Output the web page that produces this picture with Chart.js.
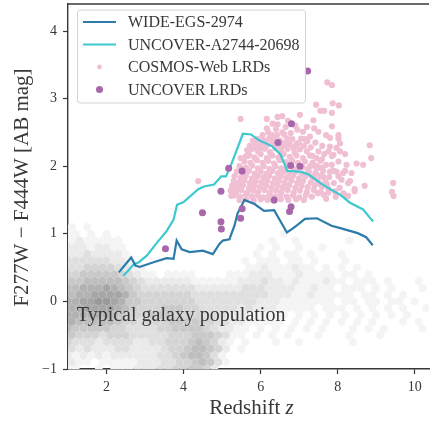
<!DOCTYPE html>
<html>
<head>
<meta charset="utf-8">
<script src="https://cdn.jsdelivr.net/npm/chart.js@4.4.1/dist/chart.umd.min.js"></script>
<style>
  html, body { margin: 0; padding: 0; background: #fff; }
  canvas { display: block; }
</style>
</head>
<body>
<canvas id="colorChart" width="433" height="425"></canvas>
<script>
const SERIF = '"Liberation Serif", "DejaVu Serif", serif';
const INK = '#383838';

const xTicks = [2, 4, 6, 8, 10];
const yTicks = [-1, 0, 1, 2, 3, 4];

// WIDE-EGS-2974 colour track
const egsZ = [2.32, 2.45, 2.64, 2.75, 2.86, 3.22, 3.56, 3.74, 3.82, 3.95, 4.16, 4.50, 4.76, 4.93, 5.02, 5.19, 5.32, 5.40, 5.58, 5.84, 6.09, 6.35, 6.50, 6.68, 6.81, 6.95, 7.15, 7.46, 7.84, 8.09, 8.52, 8.74, 8.91];
const egsColor = [0.43, 0.52, 0.65, 0.53, 0.51, 0.58, 0.64, 0.63, 0.90, 0.77, 0.73, 0.75, 0.70, 0.85, 0.90, 0.92, 1.12, 1.30, 1.50, 1.44, 1.34, 1.35, 1.20, 1.02, 1.07, 1.13, 1.22, 1.23, 1.12, 1.08, 1.01, 0.95, 0.83];

// UNCOVER-A2744-20698 colour track
const a2744Z = [2.44, 2.71, 2.84, 3.05, 3.31, 3.56, 3.74, 3.83, 4.00, 4.38, 4.53, 4.79, 4.98, 5.10, 5.24, 5.54, 5.75, 5.97, 6.09, 6.31, 6.52, 6.69, 7.03, 7.24, 7.55, 7.81, 8.06, 8.32, 8.66, 8.92];
const a2744Color = [0.38, 0.55, 0.58, 0.68, 0.87, 1.04, 1.21, 1.43, 1.47, 1.66, 1.70, 1.73, 1.85, 1.85, 2.03, 2.48, 2.47, 2.38, 2.35, 2.29, 2.17, 1.93, 1.92, 1.88, 1.75, 1.66, 1.58, 1.46, 1.36, 1.18];

// UNCOVER LRDs [z, colour]
const uncoverLRDs = [
  [3.53, 0.78], [4.49, 1.31], [4.97, 1.63], [4.97, 1.18], [4.98, 1.07], [5.17, 1.97],
  [5.52, 1.93], [5.52, 1.37], [5.48, 1.23], [6.35, 1.50], [6.45, 2.35], [6.80, 2.63],
  [6.78, 2.01], [7.02, 2.00], [6.79, 1.40], [6.75, 1.33], [7.22, 3.41]
];

// COSMOS-Web LRDs [z, colour]
const cosmosLRDs = [
  [7.73, 3.24], [7.85, 3.20], [7.44, 2.91], [7.87, 2.93], [8.03, 2.90], [7.55, 2.82], [7.65, 2.82], [7.85, 2.79],
  [7.02, 2.76], [6.44, 2.73], [6.56, 2.74], [6.16, 2.70], [5.48, 2.70], [7.37, 2.68], [6.71, 2.67], [6.31, 2.63],
  [6.44, 2.62], [7.39, 2.56], [7.50, 2.51], [7.85, 2.59], [6.95, 2.54], [7.10, 2.51], [6.78, 2.49], [6.56, 2.50],
  [6.16, 2.56], [7.70, 2.46], [8.02, 2.46], [7.80, 2.42], [8.06, 2.34], [8.02, 2.41], [6.31, 2.46], [6.42, 2.46],
  [6.99, 2.34], [6.82, 2.40], [7.05, 2.41], [7.15, 2.40], [7.28, 2.44], [7.21, 2.37], [6.61, 2.47], [6.69, 2.41],
  [6.26, 2.42], [6.35, 2.39], [6.03, 2.37], [6.14, 2.35], [5.88, 2.27], [6.00, 2.27], [5.62, 2.15], [5.48, 2.12],
  [5.67, 2.15], [5.50, 1.97], [8.83, 2.31], [8.87, 2.12], [8.49, 2.04], [8.66, 2.02], [8.70, 1.71], [8.44, 1.66],
  [9.44, 1.75], [9.41, 1.62], [9.45, 1.56], [4.38, 1.78], [7.80, 2.29], [7.97, 2.27], [8.06, 2.22], [8.19, 2.18],
  [7.76, 2.22], [7.89, 2.17], [7.85, 2.15], [8.02, 2.07], [7.46, 2.00], [7.49, 1.98], [7.89, 1.93], [7.97, 1.92],
  [8.14, 1.90], [8.02, 1.85], [8.23, 2.02], [8.19, 1.93], [8.36, 1.90], [8.10, 1.80], [8.32, 1.78], [8.27, 1.75],
  [8.44, 1.63], [8.27, 1.56], [8.23, 1.56], [7.76, 1.66], [7.93, 1.63], [7.55, 1.73], [7.63, 1.84], [7.33, 1.85],
  [7.72, 1.73], [7.63, 1.58], [7.76, 1.61], [7.50, 2.22], [7.59, 2.10], [7.46, 1.97], [7.29, 2.00], [6.95, 2.34],
  [6.86, 2.27], [5.24, 1.56], [5.28, 1.64], [5.37, 1.71],
  [6.05, 2.46], [6.20, 2.50], [6.50, 2.38], [6.58, 2.30], [6.75, 2.33], [6.90, 2.30], [7.12, 2.30], [7.30, 2.28],
  [7.42, 2.35], [7.60, 2.30], [7.35, 2.15], [7.20, 2.22], [7.45, 2.12], [7.65, 2.18], [7.70, 2.02], [7.85, 2.02],
  [7.60, 1.98], [7.80, 1.92], [7.90, 1.75], [7.95, 1.55], [8.05, 1.68], [8.15, 1.60], [7.48, 1.60], [7.70, 1.52],
  [5.72, 2.30], [5.80, 2.38], [5.65, 2.24], [6.65, 2.58], [6.90, 2.60], [7.20, 2.58], [6.40, 2.55],
  // dense core
  [5.92, 2.40], [6.08, 2.38], [6.22, 2.41], [5.86, 2.33], [6.00, 2.31], [6.15, 2.30], [6.30, 2.33], [6.47, 2.31], [6.62, 2.34],
  [5.76, 2.25], [5.93, 2.22], [6.10, 2.26], [6.24, 2.21], [6.38, 2.27], [6.53, 2.23], [6.70, 2.26], [6.88, 2.21], [7.02, 2.25],
  [5.70, 2.17], [5.84, 2.13], [6.00, 2.18], [6.16, 2.12], [6.30, 2.16], [6.46, 2.13], [6.60, 2.18], [6.76, 2.14], [6.93, 2.16], [7.10, 2.12], [7.28, 2.16],
  [5.58, 2.07], [5.74, 2.05], [5.90, 2.09], [6.05, 2.05], [6.20, 2.08], [6.35, 2.04], [6.50, 2.09], [6.66, 2.06], [6.82, 2.08], [6.97, 2.05], [7.15, 2.07], [7.35, 2.05], [7.55, 2.08],
  [5.45, 2.00], [5.62, 1.98], [5.78, 2.01], [5.93, 1.97], [6.08, 2.00], [6.23, 1.96], [6.38, 2.00], [6.53, 1.97], [6.68, 1.99], [6.86, 1.96], [7.08, 1.99], [7.22, 1.96], [7.40, 2.01],
  [5.38, 1.92], [5.54, 1.90], [5.70, 1.93], [5.85, 1.89], [6.00, 1.92], [6.15, 1.89], [6.30, 1.93], [6.45, 1.90], [6.60, 1.92], [6.75, 1.88], [6.92, 1.92], [7.08, 1.89], [7.25, 1.92], [7.42, 1.90], [7.62, 1.93],
  [5.32, 1.85], [5.48, 1.83], [5.62, 1.86], [5.78, 1.82], [5.92, 1.85], [6.07, 1.83], [6.22, 1.86], [6.37, 1.82], [6.52, 1.85], [6.67, 1.83], [6.84, 1.86], [7.00, 1.82], [7.17, 1.85], [7.38, 1.83], [7.55, 1.86], [7.78, 1.84],
  [5.30, 1.78], [5.44, 1.76], [5.58, 1.79], [5.72, 1.75], [5.87, 1.78], [6.02, 1.76], [6.17, 1.79], [6.32, 1.75], [6.47, 1.78], [6.62, 1.76], [6.80, 1.79], [6.95, 1.75], [7.10, 1.78], [7.30, 1.76], [7.48, 1.79], [7.68, 1.77],
  [5.26, 1.71], [5.40, 1.69], [5.54, 1.72], [5.70, 1.68], [5.84, 1.71], [5.98, 1.69], [6.14, 1.72], [6.28, 1.68], [6.44, 1.71], [6.58, 1.69], [6.74, 1.72], [6.90, 1.68], [7.06, 1.71], [7.22, 1.69], [7.40, 1.72], [7.60, 1.70],
  [5.22, 1.64], [5.36, 1.62], [5.50, 1.65], [5.65, 1.61], [5.80, 1.64], [5.94, 1.62], [6.10, 1.65], [6.24, 1.61], [6.40, 1.64], [6.54, 1.62], [6.70, 1.65], [6.86, 1.61], [7.02, 1.64], [7.20, 1.62], [7.38, 1.65], [7.56, 1.62],
  [5.32, 1.57], [5.47, 1.55], [5.62, 1.58], [5.77, 1.55], [5.92, 1.57], [6.07, 1.54], [6.22, 1.57], [6.37, 1.55], [6.52, 1.58], [6.68, 1.55], [6.84, 1.57], [7.00, 1.54], [7.17, 1.57], [7.33, 1.55],
  [5.45, 1.50], [5.62, 1.51], [5.82, 1.49], [6.00, 1.51], [6.18, 1.50], [6.35, 1.49], [6.52, 1.51], [6.72, 1.50], [6.92, 1.51], [7.12, 1.50]
];

// typical galaxy population: hexbin density levels (0 = empty, 9 = darkest)
// one string per row, row centres in hexRowY, columns start at z = 1.0 every 0.2 (odd rows shifted half a cell)
const hexRowY = [1.2, 1.1, 1.0, 0.9, 0.8, 0.7, 0.6, 0.5, 0.4, 0.3, 0.2, 0.1, 0.0, -0.1, -0.2, -0.3, -0.4, -0.5, -0.6, -0.7, -0.8, -0.9, -1.0];
const hexRows = [
  '00000 00000 00000 00000 00000 00000 00000 00000 00000 000',
  '10100 00000 00000 00000 00000 00000 00000 00000 00000 000',
  '11010 10000 00000 00000 00000 00010 00000 00000 00000 000',
  '12111 11000 00000 00000 00000 01001 00000 01000 00000 000',
  '22212 21100 00000 00000 00000 10100 10010 00000 00000 000',
  '22322 22100 00000 00000 00001 01011 01000 10000 00000 000',
  '33333 32210 00000 00000 00010 11101 10100 01000 00000 000',
  '33444 43211 00000 00000 00011 21112 11010 10100 00000 000',
  '44555 55432 11011 11000 01112 22111 21111 01101 00000 000',
  '55666 66543 22222 21111 11222 32212 11121 10111 01000 101',
  '66777 87654 33333 33222 22233 32222 11211 01110 10100 010',
  '67788 88754 44444 43333 33333 32221 12111 11011 01010 001',
  '77889 98755 44444 44333 33333 22211 11111 01101 10110 100',
  '77888 87654 44555 44333 33232 22111 11011 10101 01010 010',
  '77777 76544 45554 44433 32221 11110 10101 01010 10101 000',
  '76666 65443 44455 55443 32211 11101 01010 10101 00010 100',
  '65555 54433 33445 55543 22110 10101 01010 00101 01000 010',
  '54443 44433 33344 45554 31101 01010 00100 01000 10000 000',
  '43332 33332 23344 45654 21010 00100 10000 00100 00000 000',
  '32322 23322 22344 56654 20100 00000 00000 00000 00000 000',
  '21212 12222 22334 56653 10000 00000 00000 00000 00000 000',
  '21101 11112 22334 45653 10000 00000 00000 00000 00000 000',
  '11001 01112 22334 45542 00000 00000 00000 00000 00000 000'
];
const hexZ0 = 1.0;
const hexDz = 0.2;
const hexDy = 0.1;
const greyLevels = [255, 244, 234, 223, 212, 201, 190, 178, 166, 154];

const legendOrder = ['WIDE-EGS-2974', 'UNCOVER-A2744-20698', 'COSMOS-Web LRDs', 'UNCOVER LRDs'];

const toPoints = (zs, ys) => zs.map((z, i) => ({ x: z, y: ys[i] }));
const toXY = pairs => pairs.map(([x, y]) => ({ x, y }));

const hexbinPlugin = {
  id: 'hexbin',
  beforeDatasetsDraw(chart) {
    const { ctx, chartArea: area, scales: { x, y } } = chart;
    ctx.save();
    ctx.beginPath();
    ctx.rect(area.left, area.top, area.width, area.height);
    ctx.clip();
    const w = x.getPixelForValue(hexZ0 + hexDz) - x.getPixelForValue(hexZ0);
    const rowH = Math.abs(y.getPixelForValue(0) - y.getPixelForValue(hexDy));
    const r = rowH * 2 / 3;
    hexRows.forEach((raw, i) => {
      const row = raw.replace(/ /g, '');
      const shift = (hexRows.length - 1 - i) % 2 ? hexDz / 2 : 0;
      const cy = y.getPixelForValue(hexRowY[i]);
      for (let c = 0; c < row.length; c++) {
        const lvl = +row[c];
        if (!lvl) continue;
        const cx = x.getPixelForValue(hexZ0 + c * hexDz + shift);
        const g = greyLevels[lvl];
        ctx.fillStyle = `rgb(${g},${g},${g})`;
        ctx.beginPath();
        ctx.moveTo(cx, cy - r);
        ctx.lineTo(cx + w / 2, cy - r / 2);
        ctx.lineTo(cx + w / 2, cy + r / 2);
        ctx.lineTo(cx, cy + r);
        ctx.lineTo(cx - w / 2, cy + r / 2);
        ctx.lineTo(cx - w / 2, cy - r / 2);
        ctx.closePath();
        ctx.fill();
      }
    });
    ctx.fillStyle = INK;
    ctx.font = '20px ' + SERIF;
    ctx.textBaseline = 'alphabetic';
    ctx.textAlign = 'left';
    ctx.fillText('Typical galaxy population', x.getPixelForValue(1.23), y.getPixelForValue(-0.29));
    ctx.restore();
  }
};

const decorPlugin = {
  id: 'decor',
  afterDraw(chart) {
    const { ctx, chartArea: area } = chart;
    ctx.save();
    // top spine
    ctx.strokeStyle = INK;
    ctx.lineWidth = 1.4;
    ctx.beginPath();
    ctx.moveTo(area.left, area.top);
    ctx.lineTo(area.right, area.top);
    ctx.stroke();

    // legend
    const bx = 77, by = 9.5, bw = 228, bh = 93;
    ctx.fillStyle = 'rgba(255,255,255,0.9)';
    ctx.strokeStyle = '#d4d4d4';
    ctx.lineWidth = 1;
    ctx.beginPath();
    ctx.roundRect(bx + 0.5, by + 0.5, bw, bh, 3);
    ctx.fill();
    ctx.stroke();
    ctx.font = '16px ' + SERIF;
    ctx.textBaseline = 'middle';
    legendOrder.forEach((label, i) => {
      const ds = chart.data.datasets.find(d => d.label === label);
      const cy = by + 12.5 + i * 22.5;
      if (ds.type === 'line') {
        ctx.strokeStyle = ds.borderColor;
        ctx.lineWidth = ds.borderWidth;
        ctx.beginPath();
        ctx.moveTo(83, cy);
        ctx.lineTo(116, cy);
        ctx.stroke();
      } else {
        ctx.fillStyle = ds.backgroundColor;
        ctx.beginPath();
        ctx.arc(99.5, cy, label === 'COSMOS-Web LRDs' ? 2.4 : ds.pointRadius, 0, Math.PI * 2);
        ctx.fill();
      }
      ctx.fillStyle = INK;
      ctx.fillText(label, 128, cy + 1);
    });

    // axis titles
    ctx.font = '21px ' + SERIF;
    ctx.textBaseline = 'alphabetic';
    const base = 'Redshift ';
    const wBase = ctx.measureText(base).width;
    ctx.font = 'italic 21px ' + SERIF;
    const wZ = ctx.measureText('z').width;
    const startX = (area.left + area.right) / 2 + 3 - (wBase + wZ) / 2;
    ctx.font = '21px ' + SERIF;
    ctx.fillText(base, startX, 414);
    ctx.font = 'italic 21px ' + SERIF;
    ctx.fillText('z', startX + wBase, 414);

    ctx.font = '21px ' + SERIF;
    ctx.translate(22, (area.top + area.bottom) / 2 + 1);
    ctx.rotate(-Math.PI / 2);
    ctx.textAlign = 'center';
    ctx.textBaseline = 'middle';
    ctx.fillText('F277W \u2212 F444W [AB mag]', 0, 0);
    ctx.restore();
  }
};

const tickFont = { family: SERIF, size: 14 };
const fmtTick = v => (v < 0 ? '\u2212' + Math.abs(v) : String(v));

new Chart(document.getElementById('colorChart'), {
  type: 'scatter',
  data: {
    datasets: [
      { label: 'UNCOVER LRDs', data: toXY(uncoverLRDs), backgroundColor: '#a866ab', borderWidth: 0, pointRadius: 3.5, order: 0 },
      { label: 'WIDE-EGS-2974', type: 'line', data: toPoints(egsZ, egsColor), borderColor: '#2c7bab', borderWidth: 2.2, pointRadius: 0, tension: 0, fill: false, order: 1 },
      { label: 'UNCOVER-A2744-20698', type: 'line', data: toPoints(a2744Z, a2744Color), borderColor: '#3ec8d0', borderWidth: 2.2, pointRadius: 0, tension: 0, fill: false, order: 1 },
      { label: 'COSMOS-Web LRDs', data: toXY(cosmosLRDs), backgroundColor: '#f1bfd4', borderWidth: 0, pointRadius: 3.1, order: 2 }
    ]
  },
  options: {
    responsive: false,
    animation: false,
    devicePixelRatio: 1,
    layout: { padding: { top: 2, left: 0, right: 0, bottom: 0 } },
    plugins: { legend: { display: false }, tooltip: { enabled: false } },
    scales: {
      x: {
        type: 'linear',
        min: 1,
        max: 10.37,
        afterBuildTicks: s => { s.ticks = xTicks.map(v => ({ value: v })); },
        afterFit: s => { s.height = 56; s.paddingLeft = 0; s.paddingRight = 0; },
        grid: { drawOnChartArea: false, tickLength: 5, tickColor: INK, tickWidth: 1.2 },
        border: { color: INK, width: 1.4 },
        ticks: { font: tickFont, color: INK, padding: 5, maxRotation: 0, callback: fmtTick }
      },
      y: {
        type: 'linear',
        min: -1,
        max: 4.4,
        afterBuildTicks: s => { s.ticks = yTicks.map(v => ({ value: v })); },
        afterFit: s => { s.width = 68; s.paddingTop = 0; s.paddingBottom = 0; },
        grid: { drawOnChartArea: false, tickLength: 5, tickColor: INK, tickWidth: 1.2 },
        border: { color: INK, width: 1.4 },
        ticks: { font: tickFont, color: INK, padding: 6, callback: fmtTick }
      }
    }
  },
  plugins: [hexbinPlugin, decorPlugin]
});
</script>
</body>
</html>
